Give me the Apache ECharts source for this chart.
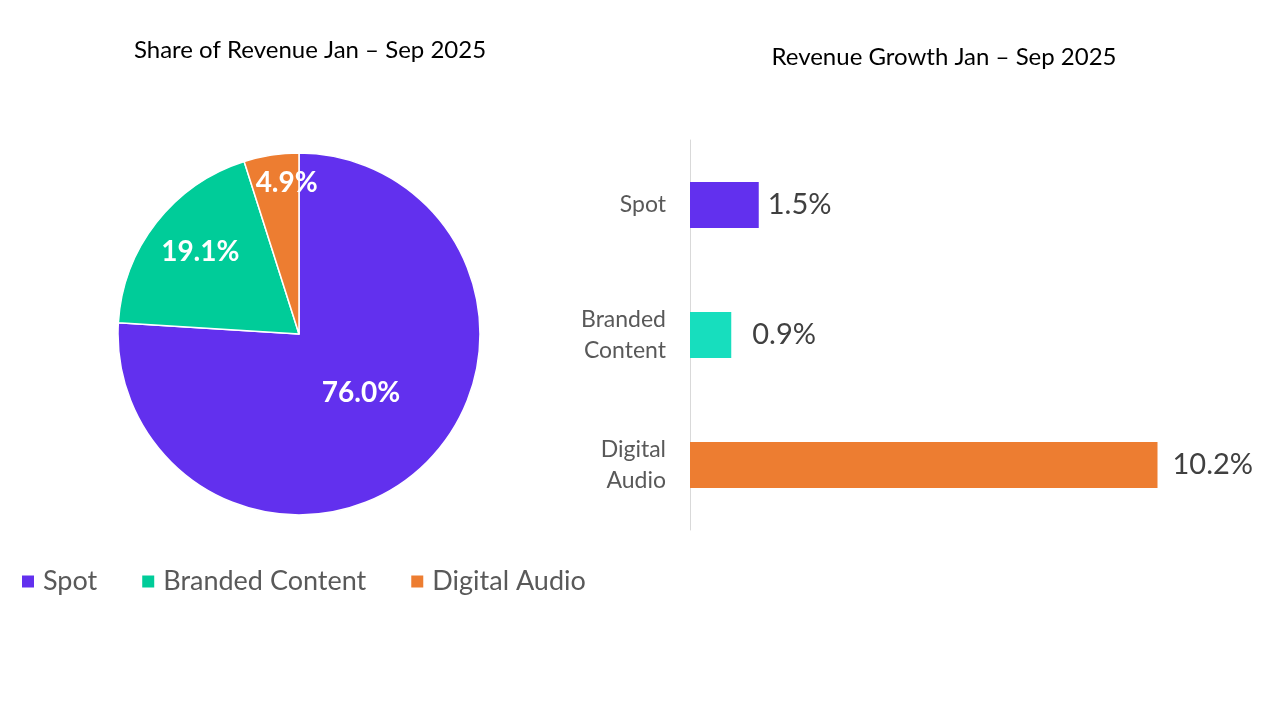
<!DOCTYPE html>
<html>
<head>
<meta charset="utf-8">
<script src="https://cdn.jsdelivr.net/npm/echarts@6/dist/echarts.min.js"></script>
<style>html,body{margin:0;padding:0;background:#fff;}#c{width:1280px;height:720px;}</style>
</head>
<body>
<div id="c"></div>
<script>
// Data
var pieTitle = 'Share of Revenue Jan \u2013 Sep 2025';
var barTitle = 'Revenue Growth Jan \u2013 Sep 2025';
var categories = ['Spot', 'Branded Content', 'Digital Audio'];
var barAxisLabels = ['Spot', 'Branded\nContent', 'Digital\nAudio'];
var shareValues = [76.0, 19.1, 4.9];
var growthValues = [1.5, 0.9, 10.2];

// Styles
var pieColors = ['#6230EE', '#00CC99', '#ED7D31'];
var barColors = ['#6230EE', '#17DEBE', '#ED7D31'];
var pieLabelShift = [[-2, -9], [-25, -24], [2, -59]];
var barLabelDistance = [9, 21, 15];
var FONT = 'Lato, "Open Sans", sans-serif';

var chart = echarts.init(document.getElementById('c'));
chart.setOption({
  backgroundColor: '#ffffff',
  animation: false,
  title: [
    { text: pieTitle, left: 305, top: 33, textAlign: 'center',
      textStyle: { fontFamily: FONT, fontSize: 24, fontWeight: 'normal', color: '#000000' } },
    { text: barTitle, left: 939, top: 40, textAlign: 'center',
      textStyle: { fontFamily: FONT, fontSize: 24, fontWeight: 'normal', color: '#000000' } }
  ],
  legend: {
    data: categories,
    left: 20, top: 568, padding: 0,
    icon: 'rect', itemWidth: 14, itemHeight: 14, itemGap: 43,
    textStyle: { fontFamily: FONT, fontSize: 27, color: '#595959', padding: [0, 0, 0, 3] }
  },
  grid: { left: 690, right: 40, top: 140, bottom: 190, containLabel: false },
  xAxis: { type: 'value', min: 0, max: 12, show: false },
  yAxis: {
    type: 'category', data: barAxisLabels, inverse: true,
    axisLine: { show: true, lineStyle: { color: '#D9D9D9', width: 1 } },
    axisTick: { show: false },
    axisLabel: { fontFamily: FONT, fontSize: 23, color: '#595959', margin: 24, lineHeight: 31, align: 'right' }
  },
  series: [
    {
      type: 'pie',
      center: [299, 334],
      radius: 181,
      startAngle: 90,
      clockwise: true,
      itemStyle: { borderColor: '#ffffff', borderWidth: 1.5 },
      label: {
        position: 'inside', color: '#ffffff', fontFamily: FONT, fontWeight: 'bold', fontSize: 28,
        formatter: function (p) { return p.value.toFixed(1) + '%'; }
      },
      labelLayout: function (p) {
        var s = pieLabelShift[p.dataIndex];
        return { dx: s[0], dy: s[1] };
      },
      labelLine: { show: false },
      data: categories.map(function (c, i) {
        return { name: c, value: shareValues[i], itemStyle: { color: pieColors[i] } };
      })
    },
    {
      type: 'bar',
      barWidth: 46,
      data: growthValues.map(function (v, i) {
        return { value: v, itemStyle: { color: barColors[i] },
          label: { distance: barLabelDistance[i] } };
      }),
      label: {
        show: true, position: 'right', fontFamily: FONT, fontSize: 29, color: '#404040',
        formatter: function (p) { return p.value.toFixed(1) + '%'; }
      }
    }
  ]
});
</script>
</body>
</html>
